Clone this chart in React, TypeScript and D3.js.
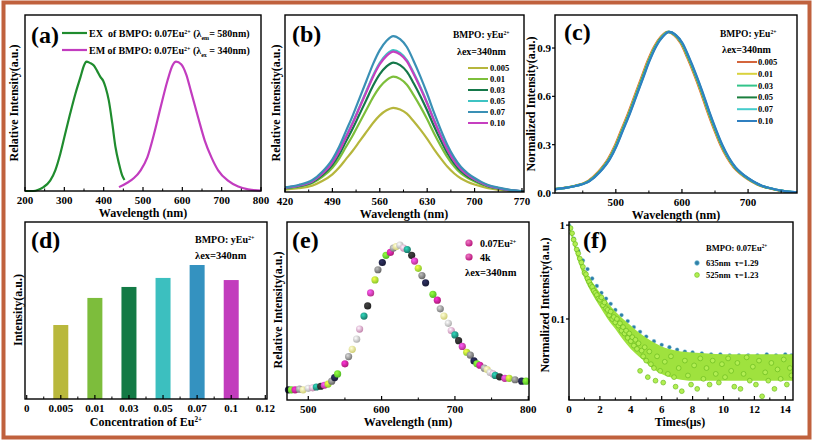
import React from "react";
import * as d3 from "d3";

const FONT = "'Liberation Serif','Times New Roman',serif";

// ---------- (a) excitation / emission ----------
const aExWave = [200, 221, 234, 247, 264, 277, 290, 302, 315, 328, 341, 350, 356, 365, 375, 383, 392, 399, 405, 413, 422, 430, 439, 447, 453];
const aExInt = [0, 0, 0.01, 0.03, 0.08, 0.16, 0.29, 0.44, 0.6, 0.75, 0.88, 0.97, 1.0, 0.99, 0.97, 0.93, 0.88, 0.85, 0.8, 0.7, 0.52, 0.34, 0.21, 0.12, 0.085];
const aEmWave = [439, 460, 477, 494, 511, 528, 545, 562, 575, 584, 597, 610, 622, 640, 657, 674, 691, 716, 742, 767, 800];
const aEmInt = [0.03, 0.064, 0.1, 0.16, 0.26, 0.44, 0.65, 0.85, 0.97, 1.0, 0.98, 0.9, 0.77, 0.57, 0.39, 0.26, 0.16, 0.08, 0.035, 0.013, 0.003];
const aTicks = [200, 300, 400, 500, 600, 700, 800];

// ---------- (b) / (c) emission spectra ----------
const profileWave = [400, 420, 440, 460, 475, 490, 500, 510, 520, 530, 540, 550, 560, 570, 580, 590, 600, 610, 620, 630, 640, 650, 660, 670, 680, 690, 700, 710, 720, 735, 750, 775];
const profileInt = [0.02, 0.03, 0.045, 0.075, 0.13, 0.21, 0.29, 0.39, 0.49, 0.6, 0.71, 0.82, 0.91, 0.97, 1.0, 0.98, 0.93, 0.84, 0.74, 0.63, 0.51, 0.4, 0.3, 0.22, 0.16, 0.12, 0.09, 0.065, 0.045, 0.028, 0.015, 0.003];
const concLabels = ["0.005", "0.01", "0.03", "0.05", "0.07", "0.10"];
const bPeaks = [0.54, 0.74, 0.83, 0.91, 1.0, 0.9];
const bColors = ["#b6b63c", "#7dbf3b", "#15784a", "#3ec3c3", "#3a90b5", "#c63fc0"];
const bDrawOrder = [0, 1, 2, 3, 5, 4];
const bTicks = [420, 490, 560, 630, 700, 770];
const cPeakShift = [-2, -1, 0, 0, 0.5, 1];
const cColors = ["#d4653c", "#d9d23e", "#33c48a", "#1b7f3e", "#45cccc", "#2f7fc0"];
const cTicksX = [500, 600, 700];
const cTicksY = [0, 0.3, 0.6, 0.9];

// ---------- (d) bars ----------
const dTickLabels = ["0", "0.005", "0.01", "0.03", "0.05", "0.07", "0.1", "0.12"];
const dBarCats = ["0.005", "0.01", "0.03", "0.05", "0.07", "0.1"];
const dBarValues = [0.418, 0.571, 0.633, 0.684, 0.757, 0.672];
const dBarColors = ["#b9b83c", "#7dbd3c", "#137a45", "#3cbfbf", "#3492c0", "#c23cbd"];

// ---------- (e) scatter spectrum ----------
const eWave = [473, 477, 482, 488, 493, 500, 506, 511, 517, 522, 527, 532, 536, 540, 550, 555, 560, 566, 570, 576, 581, 585, 591, 595, 601, 606, 612, 616, 620, 625, 630, 635, 641, 645, 650, 655, 660, 670, 676, 680, 685, 691, 695, 700, 705, 710, 716, 721, 726, 730, 734, 740, 744, 748, 752, 755, 761, 768, 774, 782, 791, 797];
const eInt = [0.0, 0.0, 0.0, 0.005, 0.0, 0.011, 0.014, 0.02, 0.025, 0.032, 0.04, 0.06, 0.085, 0.11, 0.18, 0.23, 0.28, 0.35, 0.42, 0.51, 0.58, 0.67, 0.76, 0.83, 0.88, 0.93, 0.95, 0.98, 0.99, 1.0, 0.98, 0.97, 0.93, 0.89, 0.84, 0.79, 0.74, 0.66, 0.62, 0.56, 0.51, 0.46, 0.41, 0.38, 0.34, 0.3, 0.26, 0.24, 0.2, 0.18, 0.17, 0.15, 0.14, 0.12, 0.11, 0.1, 0.09, 0.08, 0.08, 0.07, 0.06, 0.06];
const ePalette = ["#1d1f3f", "#5fd92a", "#c8208a", "#8a8a8a", "#f0ee88", "#c9c9c9", "#e29ac9", "#1e8a78", "#2a2a2a", "#d33aa0", "#9ee830", "#777777"];
const eTicks = [500, 600, 700, 800];

// ---------- (f) decay ----------
const f635T = [0, 0.3, 0.6, 0.9, 1.2, 1.5, 1.8, 2.1, 2.4, 2.7, 3.0, 3.4, 3.8, 4.2, 4.6, 5.0, 5.5, 6.0, 6.5, 7.0, 7.5, 8.0, 8.6, 9.2, 9.8, 10.4, 11.0, 11.6, 12.2, 12.8, 13.4, 14.0, 14.4];
const f635V = [1.0, 0.72, 0.53, 0.42, 0.34, 0.27, 0.225, 0.19, 0.165, 0.145, 0.125, 0.11, 0.095, 0.082, 0.073, 0.065, 0.058, 0.053, 0.05, 0.047, 0.045, 0.044, 0.043, 0.042, 0.042, 0.041, 0.041, 0.041, 0.041, 0.042, 0.041, 0.042, 0.041];
const f525BandT = [0, 0.25, 0.5, 0.75, 1, 1.5, 2, 2.5, 3, 3.5, 4, 4.5, 5, 5.5, 6, 7, 8, 9, 10, 11, 12, 13, 14, 14.5];
const f525Upper = [1.05, 0.76, 0.56, 0.43, 0.34, 0.25, 0.19, 0.15, 0.12, 0.1, 0.085, 0.072, 0.063, 0.056, 0.051, 0.046, 0.044, 0.043, 0.042, 0.042, 0.042, 0.042, 0.042, 0.042];
const f525Lower = [0.95, 0.66, 0.46, 0.35, 0.27, 0.185, 0.135, 0.1, 0.078, 0.06, 0.048, 0.04, 0.034, 0.029, 0.026, 0.023, 0.022, 0.022, 0.022, 0.022, 0.022, 0.022, 0.022, 0.022];
const f525T = [0.1, 0.2, 0.3, 0.4, 0.5, 0.6, 0.7, 0.8, 0.9, 1.0, 1.1, 1.2, 1.3, 1.4, 1.5, 1.6, 1.7, 1.8, 1.9, 2.0, 2.1, 2.2, 2.3, 2.4, 2.5, 2.6, 2.7, 2.8, 2.9, 3.0, 3.1, 3.2, 3.3, 3.4, 3.5, 3.6, 3.7, 3.8, 3.9, 4.0, 4.1, 4.2, 4.3, 4.4, 4.5, 4.6, 4.7, 4.8, 4.9, 5.0, 5.1, 5.2, 5.3, 5.5, 5.6, 5.7, 5.9, 6.1, 6.2, 6.4, 6.6, 6.8, 6.9, 7.1, 7.3, 7.5, 7.7, 7.9, 8.1, 8.3, 8.5, 8.7, 8.9, 9.1, 9.3, 9.5, 9.7, 9.9, 10.1, 10.3, 10.5, 10.7, 10.9, 11.1, 11.3, 11.5, 11.7, 11.9, 12.1, 12.3, 12.5, 12.7, 12.9, 13.1, 13.3, 13.5, 13.7, 13.9, 14.1, 14.3, 14.4];
const f525V = [0.93, 0.82, 0.7, 0.63, 0.55, 0.5, 0.44, 0.4, 0.36, 0.31, 0.3, 0.27, 0.25, 0.23, 0.22, 0.2, 0.19, 0.18, 0.165, 0.16, 0.17, 0.14, 0.15, 0.13, 0.125, 0.11, 0.12, 0.1, 0.105, 0.092, 0.1, 0.085, 0.09, 0.075, 0.082, 0.07, 0.075, 0.063, 0.07, 0.058, 0.064, 0.052, 0.06, 0.048, 0.055, 0.028, 0.046, 0.04, 0.05, 0.036, 0.024, 0.045, 0.033, 0.03, 0.022, 0.04, 0.028, 0.021, 0.035, 0.026, 0.04, 0.024, 0.019, 0.03, 0.017, 0.036, 0.025, 0.02, 0.032, 0.018, 0.038, 0.023, 0.03, 0.02, 0.036, 0.026, 0.021, 0.033, 0.024, 0.038, 0.028, 0.019, 0.034, 0.018, 0.026, 0.039, 0.022, 0.031, 0.02, 0.036, 0.015, 0.027, 0.022, 0.034, 0.018, 0.029, 0.023, 0.037, 0.02, 0.03, 0.025];
const fTicks = [0, 2, 4, 6, 8, 10, 12, 14];

// ---------- helpers ----------
function XAxis({ x, y, majors, minors, labels }: any) {
  return (
    <g>
      {majors.map((v: number, i: number) => (
        <g key={"M" + i}>
          <line x1={x(v)} x2={x(v)} y1={y} y2={y - 4} stroke="#000" strokeWidth={1.2} />
          <text x={x(v)} y={y + 12.5} textAnchor="middle" fontSize={11} fontWeight="bold" fontFamily={FONT}>
            {labels ? labels[i] : String(v)}
          </text>
        </g>
      ))}
      {minors.map((v: number, i: number) => (
        <line key={"m" + i} x1={x(v)} x2={x(v)} y1={y} y2={y - 2.5} stroke="#000" strokeWidth={1} />
      ))}
    </g>
  );
}

function Frame({ x0, y0, x1, y1 }: any) {
  return <rect x={x0} y={y0} width={x1 - x0} height={y1 - y0} fill="none" stroke="#000" strokeWidth={1.4} />;
}

function YLabel({ x, y, children }: any) {
  return (
    <text transform={`translate(${x},${y}) rotate(-90)`} textAnchor="middle" dy="0.35em" fontSize={12} fontWeight="bold" fontFamily={FONT}>
      {children}
    </text>
  );
}

function XLabel({ x, y, children }: any) {
  return (
    <text x={x} y={y} textAnchor="middle" fontSize={12} fontWeight="bold" fontFamily={FONT}>
      {children}
    </text>
  );
}

function Tag({ x, y, children }: any) {
  return (
    <text x={x} y={y} fontSize={24} fontWeight="bold" fontFamily={FONT}>
      {children}
    </text>
  );
}

const Sup = ({ children }: any) => (
  <tspan baselineShift="super" fontSize="0.6em">{children}</tspan>
);
const Sub = ({ children }: any) => (
  <tspan baselineShift="sub" fontSize="0.6em">{children}</tspan>
);

// ---------- panels ----------
function PanelA() {
  const x = d3.scaleLinear().domain([200, 800]).range([25, 261]);
  const y = d3.scaleLinear().domain([0, 1.36]).range([191, 15]);
  const ln = d3.line<[number, number]>().x((d) => x(d[0])).y((d) => y(d[1])).curve(d3.curveMonotoneX);
  const ex = aExWave.map((w, i) => [w, aExInt[i]] as [number, number]);
  const em = aEmWave.map((w, i) => [w, aEmInt[i]] as [number, number]);
  return (
    <g>
      <path d={ln(ex) || ""} fill="none" stroke="#1f8c2e" strokeWidth={2.2} />
      <path d={ln(em) || ""} fill="none" stroke="#c23cbf" strokeWidth={2.2} />
      <Frame x0={25} y0={15} x1={261} y1={191} />
      <XAxis x={x} y={191} majors={aTicks} minors={[250, 350, 450, 550, 650, 750]} />
      <XLabel x={143} y={217}>Wavelength (nm)</XLabel>
      <YLabel x={14} y={103}>Relative Intensity(a.u.)</YLabel>
      <Tag x={31} y={43}>(a)</Tag>
      <line x1={62} x2={87} y1={33} y2={33} stroke="#1f8c2e" strokeWidth={2.2} />
      <line x1={62} x2={87} y1={50} y2={50} stroke="#c23cbf" strokeWidth={2.2} />
      <text x={89} y={36.5} fontSize={10} fontWeight="bold" fontFamily={FONT} style={{ whiteSpace: "pre" }}>
        <tspan>{"EX  of BMPO: 0.07Eu"}</tspan><Sup>2+</Sup><tspan>{" (λ"}</tspan><Sub>em</Sub><tspan>{"= 580nm)"}</tspan>
      </text>
      <text x={89} y={53.5} fontSize={10} fontWeight="bold" fontFamily={FONT} style={{ whiteSpace: "pre" }}>
        <tspan>{"EM of BMPO: 0.07Eu"}</tspan><Sup>2+</Sup><tspan>{" (λ"}</tspan><Sub>ex</Sub><tspan>{" = 340nm)"}</tspan>
      </text>
    </g>
  );
}

function PanelB() {
  const x = d3.scaleLinear().domain([420, 773]).range([285, 524]);
  const y = d3.scaleLinear().domain([0, 1.135]).range([192, 15]);
  return (
    <g>
      <clipPath id="clipB"><rect x={285} y={15} width={239} height={177} /></clipPath>
      <g clipPath="url(#clipB)">
        {bDrawOrder.map((k) => {
          const ln = d3.line<number>().x((_, i) => x(profileWave[i])).y((d) => y(d * bPeaks[k])).curve(d3.curveMonotoneX);
          return <path key={k} d={ln(profileInt) || ""} fill="none" stroke={bColors[k]} strokeWidth={2.2} />;
        })}
      </g>
      <Frame x0={285} y0={15} x1={524} y1={192} />
      <XAxis x={x} y={192} majors={bTicks} minors={[455, 525, 595, 665, 735]} />
      <XLabel x={404} y={218}>Wavelength (nm)</XLabel>
      <YLabel x={276} y={103}>Relative Intensity(a.u.)</YLabel>
      <Tag x={292} y={42}>(b)</Tag>
      <text x={453} y={38} fontSize={9.5} fontWeight="bold" fontFamily={FONT}>
        <tspan>BMPO: yEu</tspan><Sup>2+</Sup>
      </text>
      <text x={457} y={55} fontSize={10} fontWeight="bold" fontFamily={FONT}>λex=340nm</text>
      {concLabels.map((c, i) => (
        <g key={c}>
          <line x1={468} x2={488} y1={68 + i * 11} y2={68 + i * 11} stroke={bColors[i]} strokeWidth={2} />
          <text x={490} y={71 + i * 11} fontSize={8.5} fontWeight="bold" fontFamily={FONT}>{c}</text>
        </g>
      ))}
    </g>
  );
}

function PanelC() {
  const x = d3.scaleLinear().domain([408, 774]).range([555, 797]);
  const y = d3.scaleLinear().domain([0, 1.105]).range([193, 15]);
  return (
    <g>
      <clipPath id="clipC"><rect x={555} y={15} width={242} height={178} /></clipPath>
      <g clipPath="url(#clipC)">
        {cColors.map((col, k) => {
          const ln = d3.line<number>().x((_, i) => x(profileWave[i] + cPeakShift[k])).y((d) => y(d)).curve(d3.curveMonotoneX);
          return <path key={k} d={ln(profileInt) || ""} fill="none" stroke={col} strokeWidth={2.2} />;
        })}
      </g>
      <Frame x0={555} y0={15} x1={797} y1={193} />
      <XAxis x={x} y={193} majors={cTicksX} minors={[450, 550, 650, 750]} />
      {cTicksY.map((v) => (
        <g key={v}>
          <line x1={555} x2={552} y1={y(v)} y2={y(v)} stroke="#000" strokeWidth={1.2} />
          <text x={551} y={y(v) + 4} textAnchor="end" fontSize={11} fontWeight="bold" fontFamily={FONT}>{v.toFixed(1)}</text>
        </g>
      ))}
      <XLabel x={676} y={219}>Wavelength (nm)</XLabel>
      <YLabel x={531} y={104}>Normalized Intensity(a.u.)</YLabel>
      <Tag x={564} y={40}>(c)</Tag>
      <text x={720} y={37} fontSize={9.5} fontWeight="bold" fontFamily={FONT}>
        <tspan>BMPO: yEu</tspan><Sup>2+</Sup>
      </text>
      <text x={722} y={53} fontSize={10} fontWeight="bold" fontFamily={FONT}>λex=340nm</text>
      {concLabels.map((c, i) => (
        <g key={c}>
          <line x1={737} x2={757} y1={62 + i * 11.8} y2={62 + i * 11.8} stroke={cColors[i]} strokeWidth={2} />
          <text x={758} y={65 + i * 11.8} fontSize={8.5} fontWeight="bold" fontFamily={FONT}>{c}</text>
        </g>
      ))}
    </g>
  );
}

function PanelD() {
  const x = d3.scaleLinear().domain([-0.05, 7.05]).range([25, 267]);
  const y = d3.scaleLinear().domain([0, 1]).range([399, 222]);
  const idx = dTickLabels.map((_, i) => i);
  return (
    <g>
      {dBarCats.map((c, i) => {
        const k = dTickLabels.indexOf(c);
        return <rect key={c} x={x(k) - 7.5} y={y(dBarValues[i])} width={15} height={399 - y(dBarValues[i])} fill={dBarColors[i]} />;
      })}
      <Frame x0={25} y0={222} x1={267} y1={399} />
      <XAxis x={x} y={399} majors={idx} minors={[0.5, 1.5, 2.5, 3.5, 4.5, 5.5, 6.5]} labels={dTickLabels} />
      <text x={146} y={425.5} textAnchor="middle" fontSize={12} fontWeight="bold" fontFamily={FONT}>
        <tspan>Concentration of Eu</tspan><Sup>2+</Sup>
      </text>
      <YLabel x={18} y={310}>Intensity(a.u.)</YLabel>
      <Tag x={31} y={248}>(d)</Tag>
      <text x={195} y={243} fontSize={10} fontWeight="bold" fontFamily={FONT}>
        <tspan>BMPO: yEu</tspan><Sup>2+</Sup>
      </text>
      <text x={195} y={259} fontSize={10.5} fontWeight="bold" fontFamily={FONT}>λex=340nm</text>
    </g>
  );
}

function PanelE() {
  const x = d3.scaleLinear().domain([471, 801]).range([287, 529]);
  const y = d3.scaleLinear().domain([-0.07, 1.16]).range([400, 222]);
  return (
    <g>
      <defs>
        {ePalette.map((c, i) => (
          <radialGradient key={i} id={"eg" + i} cx="38%" cy="35%" r="65%">
            <stop offset="0%" stopColor={d3.color(c)!.brighter(1.3).formatHex()} />
            <stop offset="100%" stopColor={d3.color(c)!.darker(0.4).formatHex()} />
          </radialGradient>
        ))}
        <radialGradient id="egLeg" cx="38%" cy="35%" r="65%">
          <stop offset="0%" stopColor="#f07ac8" />
          <stop offset="100%" stopColor="#b8157a" />
        </radialGradient>
      </defs>
      {eWave.map((w, i) => (
        <circle key={i} cx={x(w)} cy={y(eInt[i])} r={3.6} fill={`url(#eg${i % ePalette.length})`} />
      ))}
      <Frame x0={287} y0={222} x1={529} y1={400} />
      <XAxis x={x} y={400} majors={eTicks} minors={[550, 650, 750]} />
      <XLabel x={408} y={426}>Wavelength (nm)</XLabel>
      <YLabel x={278} y={310}>Relative Intensity(a.u.)</YLabel>
      <Tag x={292} y={248}>(e)</Tag>
      <circle cx={469} cy={243} r={3.6} fill="url(#egLeg)" />
      <circle cx={469} cy={257} r={3.6} fill="url(#egLeg)" />
      <text x={480} y={246.5} fontSize={10} fontWeight="bold" fontFamily={FONT}>
        <tspan>0.07Eu</tspan><Sup>2+</Sup>
      </text>
      <text x={480} y={260.5} fontSize={10} fontWeight="bold" fontFamily={FONT}>4k</text>
      <text x={465} y={275.5} fontSize={10.5} fontWeight="bold" fontFamily={FONT}>λex=340nm</text>
    </g>
  );
}

function PanelF() {
  const x = d3.scaleLinear().domain([0, 14.5]).range([569, 793]);
  const y = d3.scaleLog().domain([0.0137, 1.08]).range([400, 222]);
  const band = d3
    .area<number>()
    .x((_, i) => x(f525BandT[i]))
    .y0((_, i) => y(f525Lower[i]))
    .y1((_, i) => y(f525Upper[i]))
    .curve(d3.curveMonotoneX);
  return (
    <g>
      <clipPath id="clipF"><rect x={569} y={222} width={224} height={178} /></clipPath>
      <g clipPath="url(#clipF)">
        {f635T.map((t, i) => (
          <circle key={"b" + i} cx={x(t)} cy={y(f635V[i])} r={1.9} fill="#2f7fa8" stroke="#7fc0d8" strokeWidth={0.4} />
        ))}
        <path d={band(f525Upper) || ""} fill="#9fe23e" />
        {f525T.map((t, i) => (
          <circle key={"g" + i} cx={x(t)} cy={y(f525V[i])} r={2.4} fill="#b2ee52" stroke="#6cbc20" strokeWidth={0.7} />
        ))}
      </g>
      <Frame x0={569} y0={222} x1={793} y1={400} />
      <XAxis x={x} y={400} majors={fTicks} minors={[1, 3, 5, 7, 9, 11, 13]} />
      {[1, 0.1].map((v) => (
        <g key={v}>
          <line x1={569} x2={566} y1={y(v)} y2={y(v)} stroke="#000" strokeWidth={1.2} />
          <text x={565} y={y(v) + 4} textAnchor="end" fontSize={11} fontWeight="bold" fontFamily={FONT}>{String(v)}</text>
        </g>
      ))}
      <XLabel x={680} y={426}>Times(μs)</XLabel>
      <YLabel x={545} y={305}>Normalized Intensity(a.u.)</YLabel>
      <Tag x={583} y={248}>(f)</Tag>
      <text x={706} y={251} fontSize={8.5} fontWeight="bold" fontFamily={FONT}>
        <tspan>BMPO: 0.07Eu</tspan><Sup>2+</Sup>
      </text>
      <circle cx={697} cy={263} r={2.4} fill="#2f7fa8" stroke="#8fd0e0" strokeWidth={0.6} />
      <circle cx={697} cy={275} r={2.4} fill="#b2ee52" stroke="#6cbc20" strokeWidth={0.6} />
      <text x={706} y={266} fontSize={8.5} fontWeight="bold" fontFamily={FONT} style={{ whiteSpace: "pre" }}>{"635nm  τ=1.29"}</text>
      <text x={706} y={278} fontSize={8.5} fontWeight="bold" fontFamily={FONT} style={{ whiteSpace: "pre" }}>{"525nm  τ=1.23"}</text>
    </g>
  );
}

export default function App() {
  return (
    <svg
      width={813}
      height={442}
      viewBox="0 0 813 442"
      style={{ position: "absolute", left: 0, top: 0, background: "#fff", display: "block" }}
    >
      <rect x={0} y={0} width={813} height={442} fill="#fff" />
      <PanelA />
      <PanelB />
      <PanelC />
      <PanelD />
      <PanelE />
      <PanelF />
      <rect x={3.5} y={2.5} width={806} height={435} fill="none" stroke="#c0613d" strokeWidth={4} />
    </svg>
  );
}
